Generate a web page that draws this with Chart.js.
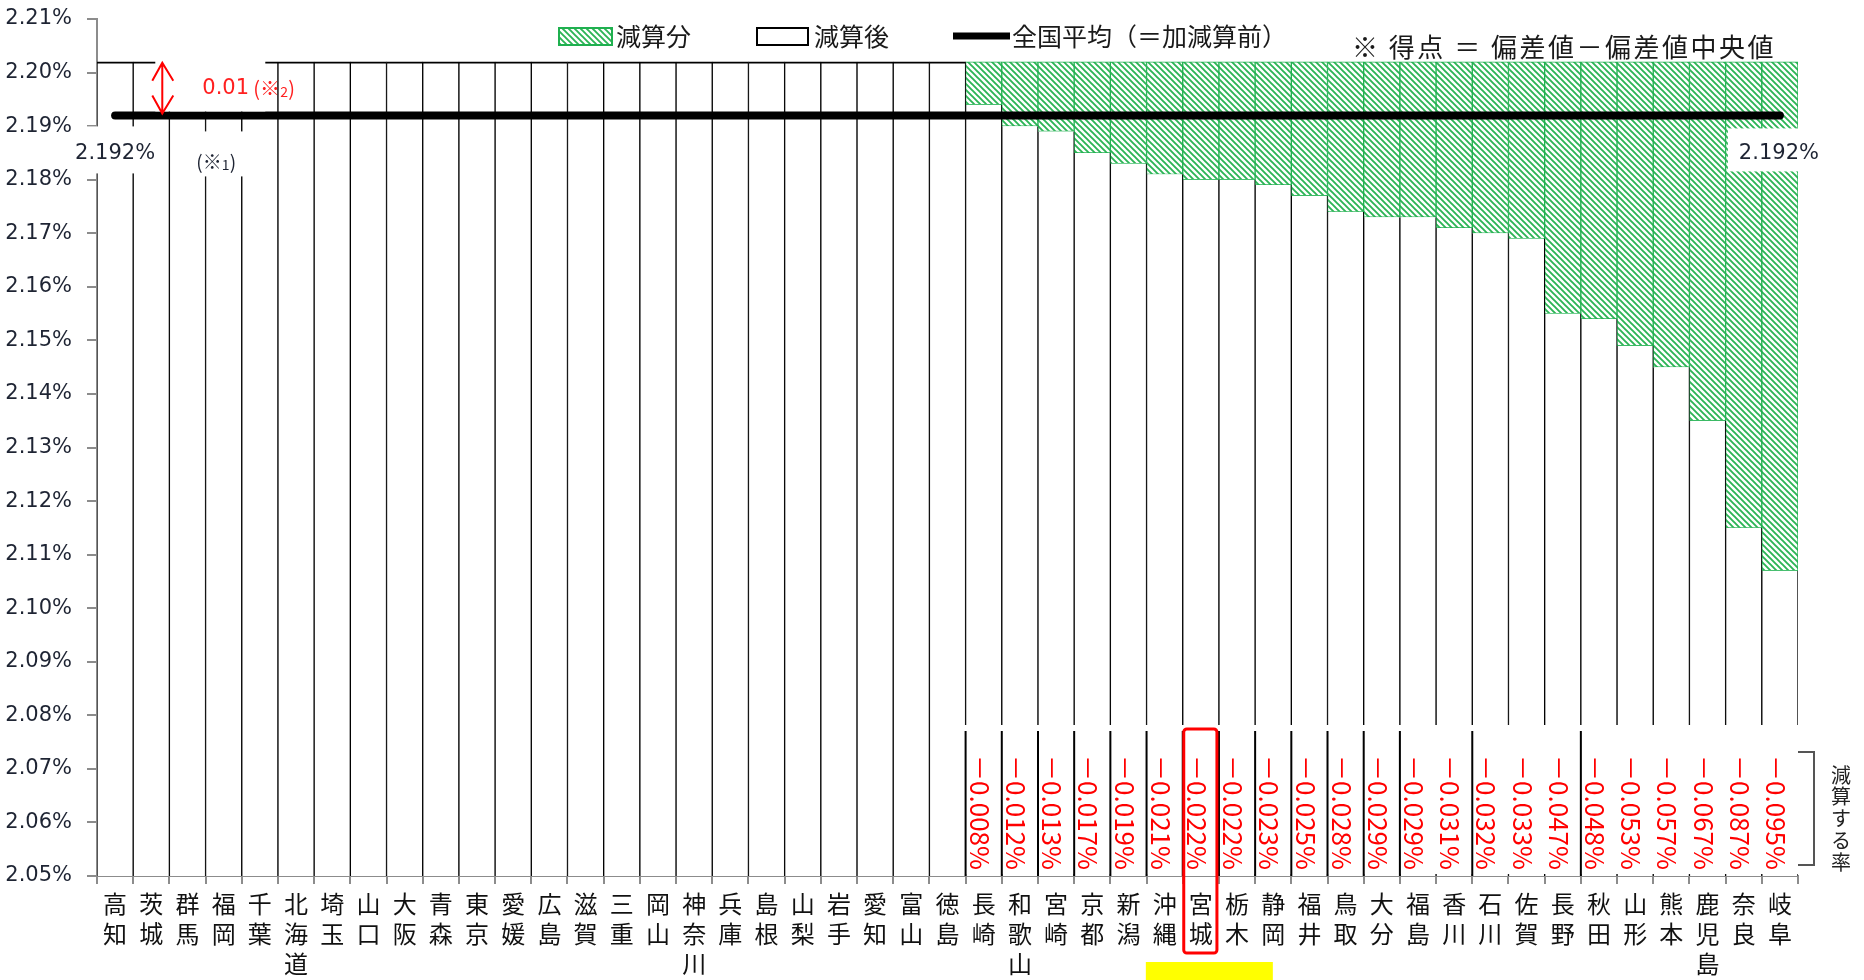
<!DOCTYPE html>
<html>
<head>
<meta charset="utf-8">
<script src="https://cdn.jsdelivr.net/npm/chart.js@4.4.1/dist/chart.umd.min.js"></script>
<style>
html, body { margin: 0; padding: 0; background: #fff; }
</style>
</head>
<body>
<canvas id="rateChart" width="1864" height="980"></canvas>
<script>
const prefectures = [
  ['高','知'], ['茨','城'], ['群','馬'], ['福','岡'], ['千','葉'], ['北','海','道'], ['埼','玉'], ['山','口'],
  ['大','阪'], ['青','森'], ['東','京'], ['愛','媛'], ['広','島'], ['滋','賀'], ['三','重'], ['岡','山'],
  ['神','奈','川'], ['兵','庫'], ['島','根'], ['山','梨'], ['岩','手'], ['愛','知'], ['富','山'], ['徳','島'],
  ['長','崎'], ['和','歌','山'], ['宮','崎'], ['京','都'], ['新','潟'], ['沖','縄'], ['宮','城'], ['栃','木'],
  ['静','岡'], ['福','井'], ['鳥','取'], ['大','分'], ['福','島'], ['香','川'], ['石','川'], ['佐','賀'],
  ['長','野'], ['秋','田'], ['山','形'], ['熊','本'], ['鹿','児','島'], ['奈','良'], ['岐','阜']
];
// reduction (%) per prefecture, null = no reduction
const reductions = [
  null, null, null, null, null, null, null, null, null, null, null, null,
  null, null, null, null, null, null, null, null, null, null, null, null,
  0.008, 0.012, 0.013, 0.017, 0.019, 0.021, 0.022, 0.022, 0.023, 0.025, 0.028, 0.029,
  0.029, 0.031, 0.032, 0.033, 0.047, 0.048, 0.053, 0.057, 0.067, 0.087, 0.095
];
const topRate = 2.202;      // national average + 0.01
const nationalAvg = 2.192;
const yTickValues = [2.05, 2.06, 2.07, 2.08, 2.09, 2.10, 2.11, 2.12, 2.13, 2.14, 2.15, 2.16, 2.17, 2.18, 2.19, 2.20, 2.21];

const afterCut = reductions.map(r => r == null ? topRate : +(topRate - r).toFixed(3));
const avgLine = prefectures.map(() => nationalAvg);

const GREEN = '#1fb04f';
const canvas = document.getElementById('rateChart');
const mainCtx = canvas.getContext('2d');

function makeHatch() {
  const t = document.createElement('canvas');
  t.width = 6; t.height = 6;
  const g = t.getContext('2d');
  g.fillStyle = '#fff';
  g.fillRect(0, 0, 6, 6);
  g.strokeStyle = '#2db556';
  g.lineWidth = 1.9;
  g.beginPath();
  g.moveTo(-1, -1); g.lineTo(7, 7);
  g.moveTo(-1, 5); g.lineTo(1, 7);
  g.moveTo(5, -1); g.lineTo(7, 1);
  g.stroke();
  return mainCtx.createPattern(t, 'repeat');
}
const hatch = makeHatch();

const JP = "'Noto Sans CJK JP', sans-serif";

function whiteBox(ctx, x, y, w, h) {
  ctx.fillStyle = '#fff';
  ctx.fillRect(x, y, w, h);
}

const notes = {
  id: 'notes',
  afterDatasetsDraw(chart) {
    const { ctx, chartArea: a, scales: { x, y } } = chart;
    const bw = x.getPixelForValue(1) - x.getPixelForValue(0);
    ctx.save();

    // white strip behind the reduction labels
    const firstCut = reductions.findIndex(r => r != null);
    const stripLeft = x.getPixelForValue(firstCut) - bw / 2 - 2;
    whiteBox(ctx, stripLeft, a.bottom - 151, a.right - stripLeft + 3, 149);
    ctx.strokeStyle = '#000';
    ctx.lineWidth = 2;
    [24, 25, 26, 27, 28, 29, 30, 31, 32, 33, 34, 35, 36, 38, 41].forEach(i => {
      const lx = x.getPixelForValue(i) - bw / 2;
      ctx.beginPath();
      ctx.moveTo(lx, a.bottom - 145);
      ctx.lineTo(lx, a.bottom);
      ctx.stroke();
    });

    // reduction labels (rotated)
    ctx.fillStyle = '#ff0000';
    ctx.font = '26px ' + JP;
    ctx.textAlign = 'right';
    ctx.textBaseline = 'middle';
    reductions.forEach((r, i) => {
      if (r == null) return;
      ctx.save();
      ctx.translate(x.getPixelForValue(i) - 4, a.bottom - 6);
      ctx.rotate(Math.PI / 2);
      ctx.fillText('－' + r.toFixed(3) + '%', 0, 0);
      ctx.restore();
    });

    // average value labels
    const yAvg = y.getPixelForValue(nationalAvg);
    const xL = x.getPixelForValue(0);
    const xR = x.getPixelForValue(prefectures.length - 1);
    whiteBox(ctx, xL - 39, yAvg + 11, 78, 47);
    whiteBox(ctx, xR - 52, yAvg + 13, 105, 43);
    ctx.fillStyle = '#1e2433';
    ctx.font = '21px "DejaVu Sans"';
    ctx.textAlign = 'center';
    ctx.fillText('2.192%', xL, yAvg + 38);
    ctx.fillText('2.192%', xR - 1, yAvg + 38);

    // (※1)
    const x1 = x.getPixelForValue(3) - 8;
    whiteBox(ctx, x1 - 34, yAvg + 16, 66, 45);
    ctx.fillStyle = '#1e2433';
    ctx.font = '19px ' + JP;
    ctx.textAlign = 'right';
    ctx.fillText('(※', x1 + 6, yAvg + 46);
    ctx.font = '14px ' + JP;
    ctx.textAlign = 'left';
    ctx.fillText('1', x1 + 6, yAvg + 49);
    ctx.font = '19px ' + JP;
    ctx.fillText(')', x1 + 14, yAvg + 46);

    // 0.01 (※2) with arrow
    const yTop = y.getPixelForValue(topRate);
    const xArrow = x.getPixelForValue(1) + 11;
    whiteBox(ctx, xArrow - 7, yTop - 4, 110, yAvg - yTop);
    ctx.strokeStyle = '#ff0000';
    ctx.lineWidth = 2;
    ctx.beginPath();
    ctx.moveTo(xArrow, yTop + 1); ctx.lineTo(xArrow, yAvg - 2);
    ctx.moveTo(xArrow - 10, yTop + 19); ctx.lineTo(xArrow, yTop + 1); ctx.lineTo(xArrow + 11, yTop + 19);
    ctx.moveTo(xArrow - 10, yAvg - 20); ctx.lineTo(xArrow, yAvg - 2); ctx.lineTo(xArrow + 11, yAvg - 20);
    ctx.stroke();
    ctx.fillStyle = '#ff2020';
    ctx.font = '21px "DejaVu Sans"';
    ctx.textAlign = 'left';
    ctx.fillText('0.01', xArrow + 40, yTop + 27);
    ctx.font = '20px ' + JP;
    ctx.fillText('(※', xArrow + 91, yTop + 27);
    ctx.font = '14px ' + JP;
    ctx.fillText('2', xArrow + 118, yTop + 30);
    ctx.font = '20px ' + JP;
    ctx.fillText(')', xArrow + 126, yTop + 27);

    // highlighted prefecture
    const xm = x.getPixelForValue(30);
    ctx.strokeStyle = '#ff0000';
    ctx.lineWidth = 3;
    ctx.beginPath();
    ctx.roundRect(xm - bw / 2 + 1, a.bottom - 147, bw - 3, 224, 3);
    ctx.stroke();
    ctx.fillStyle = '#ffff00';
    ctx.fillRect(xm - 55, a.bottom + 86, 127, 20);

    // bracket and side caption
    ctx.strokeStyle = '#555';
    ctx.lineWidth = 2;
    ctx.beginPath();
    ctx.moveTo(a.right, a.bottom - 124);
    ctx.lineTo(a.right + 16, a.bottom - 124);
    ctx.lineTo(a.right + 16, a.bottom - 11);
    ctx.lineTo(a.right, a.bottom - 11);
    ctx.stroke();
    ctx.fillStyle = '#222';
    ctx.font = '20px ' + JP;
    ctx.textAlign = 'center';
    ctx.textBaseline = 'middle';
    '減算する率'.split('').forEach((ch, i) => {
      ctx.fillText(ch, a.right + 43, a.bottom - 101 + i * 21.75);
    });
    ctx.restore();
  },
  afterDraw(chart) {
    const { ctx } = chart;
    ctx.save();
    ctx.textBaseline = 'middle';
    ctx.textAlign = 'left';
    // legend
    ctx.fillStyle = hatch;
    ctx.fillRect(559, 28, 53, 17);
    ctx.strokeStyle = GREEN;
    ctx.lineWidth = 2;
    ctx.strokeRect(559, 28, 53, 17);
    ctx.fillStyle = '#fff';
    ctx.fillRect(757, 28, 51, 17);
    ctx.strokeStyle = '#000';
    ctx.strokeRect(757, 28, 51, 17);
    ctx.lineWidth = 7;
    ctx.beginPath();
    ctx.moveTo(953, 36); ctx.lineTo(1010, 36);
    ctx.stroke();
    ctx.fillStyle = '#1a1a1a';
    ctx.font = '25px ' + JP;
    ctx.fillText('減算分', 616, 36);
    ctx.fillText('減算後', 814, 36);
    ctx.fillText('全国平均（＝加減算前）', 1012, 36);
    ctx.font = '26px ' + JP;
    ctx.letterSpacing = '2.5px';
    ctx.fillText('※ 得点 ＝ 偏差値－偏差値中央値', 1352, 47);
    ctx.restore();
  }
};

Chart.defaults.font.family = JP;

new Chart(mainCtx, {
  data: {
    labels: prefectures,
    datasets: [
      {
        type: 'line',
        label: '全国平均（＝加減算前）',
        data: avgLine,
        borderColor: '#000',
        borderWidth: 8,
        borderCapStyle: 'round',
        pointRadius: 0,
        order: 0
      },
      {
        type: 'bar',
        label: '減算後',
        data: afterCut,
        backgroundColor: '#fff',
        borderColor: '#000',
        borderWidth: ctx => ({ top: reductions[ctx.dataIndex] == null ? 2 : 0, left: 1, right: 1, bottom: 0 }),
        borderSkipped: false,
        barPercentage: 1,
        categoryPercentage: 1,
        order: 1
      },
      {
        type: 'bar',
        label: '減算分',
        data: reductions,
        backgroundColor: hatch,
        borderColor: GREEN,
        borderWidth: 1,
        borderSkipped: false,
        barPercentage: 1,
        categoryPercentage: 1,
        order: 1
      }
    ]
  },
  options: {
    responsive: false,
    animation: false,
    layout: { padding: { top: 19, right: 66, left: 0, bottom: 0 } },
    plugins: { legend: { display: false }, tooltip: { enabled: false } },
    scales: {
      x: {
        stacked: true,
        ticks: { font: { size: 24, lineHeight: 1.25 }, color: '#111', padding: 5, maxRotation: 0, autoSkip: false },
        grid: { drawOnChartArea: false, tickLength: 8, color: '#8c8c8c', lineWidth: 2, offset: true },
        border: { color: '#8c8c8c', width: 2 },
        afterFit: s => { s.height = 104; }
      },
      y: {
        stacked: true,
        min: 2.05,
        max: 2.21,
        afterBuildTicks: s => { s.ticks = yTickValues.map(v => ({ value: v })); },
        ticks: {
          callback: v => v.toFixed(2) + '%',
          font: { family: 'DejaVu Sans', size: 21 },
          color: '#1e2433',
          padding: 15
        },
        grid: { drawOnChartArea: false, tickLength: 10, color: '#8c8c8c', lineWidth: 2 },
        border: { color: '#8c8c8c', width: 2 },
        afterFit: s => { s.width = 97; s.paddingTop = 0; s.paddingBottom = 0; }
      }
    }
  },
  plugins: [notes]
});
</script>
</body>
</html>
